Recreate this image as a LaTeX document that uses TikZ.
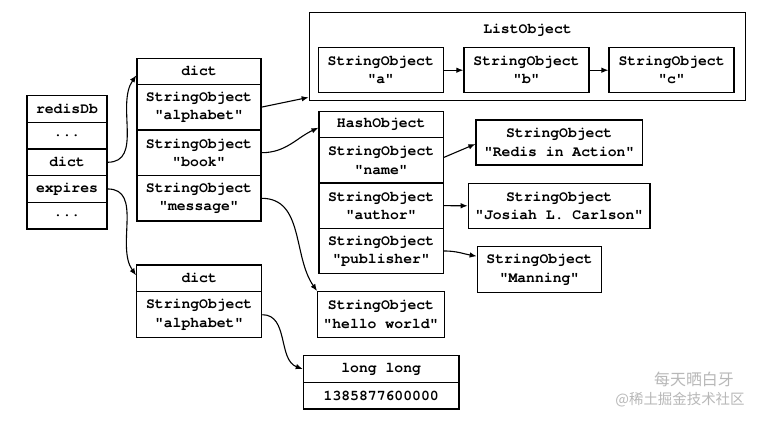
\documentclass[tikz,border=0pt]{standalone}
\usepackage{fontspec}
\newfontfamily\monofnt{TeX Gyre Cursor}
\newfontfamily\cjkfnt{Noto Sans CJK SC}
\usetikzlibrary{arrows.meta}
\tikzset{
  cell/.style={draw, line width=1.3bp, inner sep=0pt, align=center,
    font=\monofnt\bfseries\fontsize{14.8}{18.3}\selectfont},
  link/.style={line width=1.1bp, -{Latex[length=7bp,width=5.5bp]}},
  wm/.style={text=black!28, inner sep=0pt},
}
\begin{document}
\begin{tikzpicture}[x=1bp,y=-1bp]
\fill[white] (0,0) rectangle (766,420);
\useasboundingbox (0,0) rectangle (766,420);

% redisDb column
\begin{scope}[every node/.style={cell, minimum width=80bp, minimum height=26.7bp}]
\node (db0) at (67,108.85) {redisDb};
\node (db1) at (67,135.55) {...};
\node (dbdict) at (67,162.25) {dict};
\node (dbexp) at (67,188.95) {expires};
\node (db4) at (67,215.65) {...};
\end{scope}

% dict 1
\node[cell, minimum width=124bp, minimum height=26bp] (dA) at (199,71.3) {dict};
\node[cell, minimum width=124bp, minimum height=45.6bp] (dAalpha) at (199,107.1) {StringObject\\"alphabet"};
\node[cell, minimum width=124bp, minimum height=45.6bp] (dAbook) at (199,152.7) {StringObject\\"book"};
\node[cell, minimum width=124bp, minimum height=45.6bp] (dAmsg) at (199,198.3) {StringObject\\"message"};

% ListObject
\node[cell, minimum width=436.4bp, minimum height=88bp] (list) at (527.5,56.7) {};
\node[font=\monofnt\bfseries\fontsize{14.8}{18.3}\selectfont, inner sep=0pt] (listlbl) at (527.5,30) {ListObject};
\node[cell, minimum width=125bp, minimum height=45bp] (la) at (380.8,70.2) {StringObject\\"a"};
\node[cell, minimum width=125bp, minimum height=45bp] (lb) at (526.5,70.2) {StringObject\\"b"};
\node[cell, minimum width=125bp, minimum height=45bp] (lc) at (671.6,70.2) {StringObject\\"c"};

% HashObject
\node[cell, minimum width=124.3bp, minimum height=26bp] (h) at (381.2,124.7) {HashObject};
\node[cell, minimum width=124.3bp, minimum height=45.3bp] (hname) at (381.2,160.35) {StringObject\\"name"};
\node[cell, minimum width=124.3bp, minimum height=45.3bp] (hauth) at (381.2,205.65) {StringObject\\"author"};
\node[cell, minimum width=124.3bp, minimum height=45.3bp] (hpub) at (381.2,250.95) {StringObject\\"publisher"};

% hash values
\node[cell, minimum width=166.3bp, minimum height=45bp] (vred) at (559.2,142.5) {StringObject\\"Redis in Action"};
\node[cell, minimum width=181.7bp, minimum height=45bp] (vjos) at (559.2,205.8) {StringObject\\"Josiah L. Carlson"};
\node[cell, minimum width=124.4bp, minimum height=46bp] (vman) at (539.5,269.7) {StringObject\\"Manning"};

% hello world
\node[cell, minimum width=126.6bp, minimum height=45.6bp] (hello) at (381,314.5) {StringObject\\"hello world"};

% dict 2
\node[cell, minimum width=125bp, minimum height=26.7bp] (dB) at (199.2,278.35) {dict};
\node[cell, minimum width=125bp, minimum height=46bp] (dBalpha) at (199.2,314.7) {StringObject\\"alphabet"};

% long long
\node[cell, minimum width=155.7bp, minimum height=26.6bp] (ll) at (381.2,369) {long long};
\node[cell, minimum width=155.7bp, minimum height=26.6bp] (llv) at (381.2,395.6) {1385877600000};

% connectors
\draw[link] (dbdict.east) to[out=0,in=235] ([yshift=-4bp]dA.west);
\draw[link] (dbexp.east) to[out=0,in=125] ([yshift=3bp]dB.west);
\draw[link] (dAalpha.east) -- ([yshift=4bp]list.south west);
\draw[link] (dAbook.east) to[out=0,in=205] ([yshift=-3bp]h.west);
\draw[link] (dAmsg.east) to[out=0,in=125] (hello.north west);
\draw[link] ([yshift=3bp]hname.east) -- ([yshift=-1.5bp]vred.west);
\draw[link] (hauth.east) -- (vjos.west);
\draw[link] (hpub.east) to[out=0,in=170] ([yshift=13.5bp]vman.west);
\draw[link] (dBalpha.east) to[out=0,in=160] (ll.west);
\draw[link] (la.east) -- (lb.west);
\draw[link] (lb.east) -- (lc.west);

% watermark
\node[wm, font=\cjkfnt\fontsize{16}{16}\selectfont] (wm1) at (694,379) {每天晒白牙};
\node[wm, font=\cjkfnt\fontsize{14.5}{15}\selectfont] (wm2) at (680,400) {@稀土掘金技术社区};
\end{tikzpicture}
\end{document}
